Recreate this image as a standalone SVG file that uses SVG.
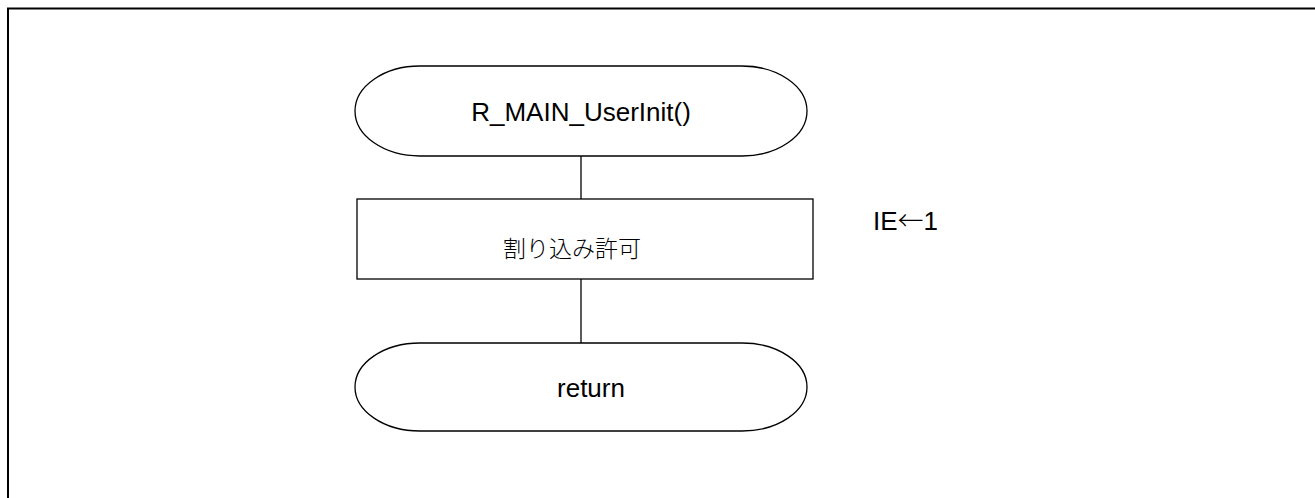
<svg xmlns="http://www.w3.org/2000/svg" width="1315" height="498" viewBox="0 0 1315 498">
  <style>
    .shape { fill: #ffffff; stroke: #000000; stroke-width: 1.3; }
    .edge { fill: none; stroke: #000000; stroke-width: 1.3; }
    .label { font-family: "Liberation Sans", Arial, sans-serif; font-size: 26px; fill: #000000; }
    .jp { font-family: "Noto Sans CJK JP", sans-serif; font-size: 23px; font-weight: 300; fill: #000000; }
    .arrow { font-family: "Noto Sans CJK JP", sans-serif; font-weight: 300; }
  </style>
  <rect width="1315" height="498" fill="#ffffff"/>
  <!-- outer frame, open to the right and bottom -->
  <rect x="8" y="8.5" width="1330" height="510" fill="none" stroke="#000000" stroke-width="2"/>

  <g id="connectors">
    <line class="edge" x1="581" y1="156" x2="581" y2="199"/>
    <line class="edge" x1="581" y1="279" x2="581" y2="343"/>
  </g>

  <g id="start">
    <rect class="shape" x="355" y="66" width="452" height="90" rx="65" ry="45"/>
    <text class="label" x="581" y="121" text-anchor="middle">R_MAIN_UserInit()</text>
  </g>

  <g id="enable-interrupts">
    <rect class="shape" x="357" y="199" width="456" height="80"/>
    <text class="jp" x="572" y="257" text-anchor="middle">割り込み許可</text>
  </g>

  <g id="note">
    <text class="label" x="873" y="230">IE<tspan class="arrow">←</tspan>1</text>
  </g>

  <g id="end">
    <rect class="shape" x="355" y="343" width="452" height="88" rx="65" ry="44"/>
    <text class="label" x="591" y="397" text-anchor="middle">return</text>
  </g>
</svg>
